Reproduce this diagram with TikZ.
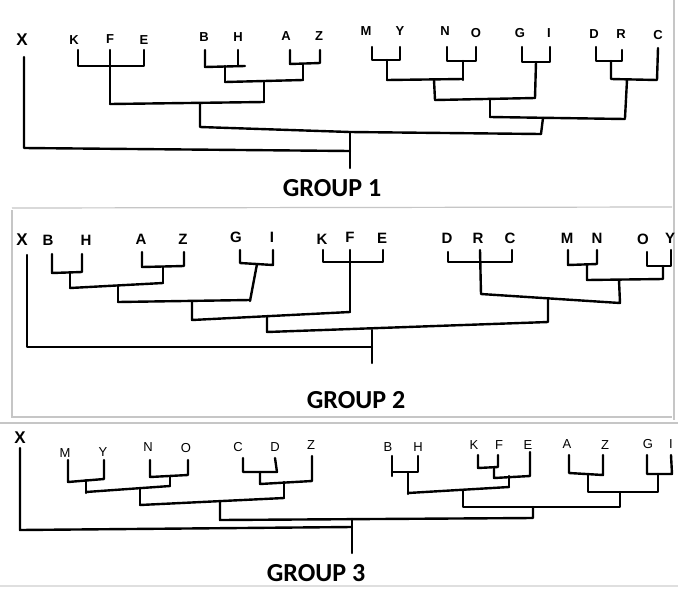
\documentclass[tikz,border=0pt]{standalone}
\usepackage{fontspec}
\setmainfont{Liberation Sans}
\newfontfamily\titlefont{Carlito}
\begin{document}
\begin{tikzpicture}[x=1pt,y=-1pt,
  tree/.style={line width=2.4pt,line cap=round,line join=round,black},
  frame/.style={line width=1.2pt,gray!45},
  laba/.style={inner sep=0pt,font=\fontsize{13}{13}\selectfont\bfseries},
  labb/.style={inner sep=0pt,font=\fontsize{15}{15}\selectfont\bfseries},
  labc/.style={inner sep=0pt,font=\fontsize{13}{13}\selectfont},
  labx/.style={inner sep=0pt,font=\fontsize{17}{17}\selectfont\bfseries},
  title/.style={inner sep=0pt,font=\titlefont\bfseries\fontsize{26}{26}\selectfont}]
\useasboundingbox (0,0) rectangle (678,590);
\fill[white] (0,0) rectangle (678,590);
% panel frames
\draw[frame] (674,0) -- (674,420);
\draw[frame] (12,208) -- (672,207);
\draw[frame] (12,210) -- (12,417) -- (672,417);
\draw[frame] (0,423) -- (678,423);
\draw[frame,gray!25] (0,586) -- (678,586);

% ---------------- GROUP 1 ----------------
\node[labx] (a-X) at (22,40) {X};
\node[laba] (a-K) at (74,40) {K};
\node[laba] (a-F) at (110,39) {F};
\node[laba] (a-E) at (144,40) {E};
\node[laba] (a-B) at (204,37) {B};
\node[laba] (a-H) at (238,37) {H};
\node[laba] (a-A) at (286,36) {A};
\node[laba] (a-Z) at (319,36) {Z};
\node[laba] (a-M) at (366,31) {M};
\node[laba] (a-Y) at (400,31) {Y};
\node[laba] (a-N) at (445,31) {N};
\node[laba] (a-O) at (476,33) {O};
\node[laba] (a-G) at (520,33) {G};
\node[laba] (a-I) at (549,33) {I};
\node[laba] (a-D) at (594,34) {D};
\node[laba] (a-R) at (621,34) {R};
\node[laba] (a-C) at (658,35) {C};
\node[title] (t1) at (332,188) {GROUP 1};

\draw[tree] (24,57) -- (24,148) -- (350,151);
\draw[tree] (78,50) -- (78,66) -- (144,66) -- (144,50);
\draw[tree] (110,50) -- (110,104);
\draw[tree] (205,50) -- (205,67) -- (245,66);
\draw[tree] (238,50) -- (238,66);
\draw[tree] (225,66) -- (225,82);
\draw[tree] (290,50) -- (290,64) -- (320,63) -- (320,50);
\draw[tree] (303,64) -- (303,80);
\draw[tree] (225,82) -- (303,80);
\draw[tree] (264,81) -- (264,102);
\draw[tree] (110,104) -- (264,102);
\draw[tree] (200,104) -- (200,127) -- (350,132) -- (541,134);
\draw[tree] (350,132) -- (350,168);
\draw[tree] (372,47) -- (372,60) -- (400,60) -- (400,47);
\draw[tree] (387,60) -- (387,80);
\draw[tree] (447,47) -- (447,61) -- (476,61) -- (476,47);
\draw[tree] (463,61) -- (463,80);
\draw[tree] (387,80) -- (463,79);
\draw[tree] (434,80) -- (435,100);
\draw[tree] (435,100) -- (535,98);
\draw[tree] (522,47) -- (522,62) -- (550,62) -- (550,47);
\draw[tree] (536,62) -- (535,98);
\draw[tree] (490,100) -- (490,117);
\draw[tree] (490,117) -- (625,119);
\draw[tree] (596,47) -- (596,61) -- (622,61) -- (622,50);
\draw[tree] (611,61) -- (611,79) -- (657,80) -- (658,48);
\draw[tree] (627,80) -- (625,118);
\draw[tree] (543,118) -- (541,134);

% ---------------- GROUP 2 ----------------
\node[labx] (b-X) at (22,240) {X};
\node[labb] (b-B) at (48,240) {B};
\node[labb] (b-H) at (86,240) {H};
\node[labb] (b-A) at (141,239) {A};
\node[labb] (b-Z) at (183,239) {Z};
\node[labb] (b-G) at (236,237) {G};
\node[labb] (b-I) at (272,237) {I};
\node[labb] (b-K) at (322,239) {K};
\node[labb] (b-F) at (350,237) {F};
\node[labb] (b-E) at (382,238) {E};
\node[labb] (b-D) at (447,238) {D};
\node[labb] (b-R) at (478,238) {R};
\node[labb] (b-C) at (510,238) {C};
\node[labb] (b-M) at (567,238) {M};
\node[labb] (b-N) at (597,238) {N};
\node[labb] (b-O) at (643,239) {O};
\node[labb] (b-Y) at (670,238) {Y};
\node[title] (t2) at (356,400) {GROUP 2};

\draw[tree] (27,255) -- (27,347) -- (372,347);
\draw[tree] (52,254) -- (52,273) -- (82,272) -- (82,254);
\draw[tree] (70,273) -- (70,288);
\draw[tree] (142,252) -- (142,267) -- (184,266) -- (184,252);
\draw[tree] (163,267) -- (163,283);
\draw[tree] (70,288) -- (163,283);
\draw[tree] (118,286) -- (118,302);
\draw[tree] (240,250) -- (240,263) -- (273,265) -- (273,250);
\draw[tree] (257,264) -- (250,301);
\draw[tree] (118,302) -- (250,300);
\draw[tree] (192,302) -- (192,320) -- (350,312);
\draw[tree] (323,250) -- (323,262) -- (383,262) -- (383,250);
\draw[tree] (350,250) -- (350,312);
\draw[tree] (267,316) -- (267,332) -- (548,322) -- (548,298);
\draw[tree] (448,252) -- (448,262) -- (512,262) -- (512,250);
\draw[tree] (480,250) -- (481,294) -- (620,303) -- (619,280);
\draw[tree] (568,250) -- (568,265) -- (597,264) -- (597,250);
\draw[tree] (587,265) -- (587,280) -- (663,279) -- (663,266);
\draw[tree] (647,252) -- (647,266) -- (671,266) -- (671,250);
\draw[tree] (372,330) -- (372,363);

% ---------------- GROUP 3 ----------------
\node[labx] (c-X) at (20,438) {X};
\node[labc] (c-M) at (65,453) {M};
\node[labc] (c-Y) at (103,452) {Y};
\node[labc] (c-N) at (148,447) {N};
\node[labc] (c-O) at (186,448) {O};
\node[labc] (c-C) at (238,447) {C};
\node[labc] (c-D) at (275,447) {D};
\node[labc] (c-Z) at (311,445) {Z};
\node[labc] (c-B) at (388,447) {B};
\node[labc] (c-H) at (418,447) {H};
\node[labc] (c-K) at (474,445) {K};
\node[labc] (c-F) at (499,445) {F};
\node[labc] (c-E) at (528,445) {E};
\node[labc] (c-A) at (567,444) {A};
\node[labc] (c-Z2) at (605,445) {Z};
\node[labc] (c-G) at (648,444) {G};
\node[labc] (c-I) at (671,444) {I};
\node[title] (t3) at (316,573) {GROUP 3};

\draw[tree] (20,448) -- (20,530) -- (352,527);
\draw[tree] (68,460) -- (68,482) -- (104,479) -- (104,460);
\draw[tree] (86,480) -- (86,493);
\draw[tree] (150,460) -- (150,477) -- (188,475) -- (188,460);
\draw[tree] (170,476) -- (170,486);
\draw[tree] (86,492) -- (170,486);
\draw[tree] (140,488) -- (140,505);
\draw[tree] (243,458) -- (243,472) -- (277,472) -- (275,458);
\draw[tree] (260,472) -- (260,484) -- (312,481) -- (312,456);
\draw[tree] (284,482) -- (284,498);
\draw[tree] (140,505) -- (284,498);
\draw[tree] (220,501) -- (220,520) -- (533,518) -- (533,507);
\draw[tree] (352,519) -- (352,553);
\draw[tree] (392,456) -- (392,476);
\draw[tree] (392,472) -- (418,472) -- (418,456);
\draw[tree] (408,472) -- (408,494);
\draw[tree] (478,455) -- (478,468) -- (498,467) -- (498,455);
\draw[tree] (494,467) -- (494,478) -- (530,476) -- (530,452);
\draw[tree] (509,476) -- (509,487);
\draw[tree] (408,493) -- (509,487);
\draw[tree] (463,490) -- (463,507) -- (620,507) -- (620,492);
\draw[tree] (569,455) -- (569,473) -- (603,475) -- (603,455);
\draw[tree] (588,475) -- (588,492) -- (658,492) -- (658,474);
\draw[tree] (647,455) -- (647,474) -- (672,474) -- (671,455);
\end{tikzpicture}
\end{document}
